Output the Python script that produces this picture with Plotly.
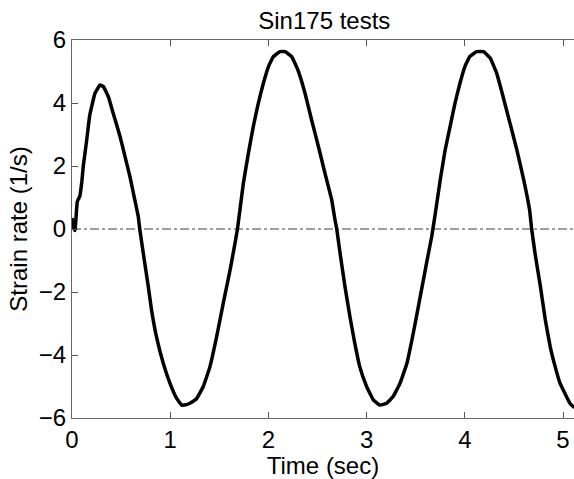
import plotly.graph_objects as go

title_text = "Sin175 tests"
x_label = "Time (sec)"
y_label = "Strain rate (1/s)"

time_s = [0, 0.013, 0.03, 0.054, 0.08, 0.1, 0.115, 0.15, 0.18, 0.234, 0.285, 0.32, 0.37, 0.42, 0.49,
          0.54, 0.59, 0.64, 0.675, 0.69, 0.726, 0.777, 0.81, 0.86, 0.93, 0.998, 1.066, 1.117, 1.16, 1.20,
          1.27, 1.337, 1.405, 1.473, 1.54, 1.61, 1.66, 1.685, 1.745, 1.796, 1.846, 1.897, 1.948, 2.0,
          2.05, 2.118, 2.17, 2.237, 2.30, 2.373, 2.44, 2.51, 2.576, 2.645, 2.678, 2.695, 2.73, 2.78,
          2.83, 2.88, 2.93, 3.0, 3.07, 3.136, 3.205, 3.27, 3.34, 3.41, 3.475, 3.54, 3.61, 3.663, 3.70,
          3.75, 3.80, 3.85, 3.90, 3.95, 4.0, 4.05, 4.12, 4.19, 4.26, 4.325, 4.39, 4.46, 4.53, 4.60,
          4.66, 4.68, 4.715, 4.77, 4.82, 4.87, 4.92, 4.97, 5.02, 5.07, 5.105, 5.12]

strain_rate = [0.35, 0.1, -0.05, 0.87, 1.05, 1.5, 2.0, 2.83, 3.6, 4.31, 4.57, 4.52, 4.2, 3.67, 2.93,
               2.30, 1.66, 0.92, 0.39, 0.0, -0.77, -1.83, -2.57, -3.42, -4.27, -4.90, -5.38, -5.59, -5.58, -5.53,
               -5.38, -5.0, -4.37, -3.42, -2.36, -1.30, -0.45, 0.0, 1.45, 2.40, 3.25, 3.99, 4.62, 5.15,
               5.47, 5.63, 5.63, 5.47, 5.05, 4.31, 3.46, 2.61, 1.77, 0.92, 0.29, 0.02, -0.77, -1.83,
               -2.78, -3.63, -4.37, -5.0, -5.43, -5.59, -5.53, -5.32, -4.90, -4.27, -3.31, -2.25, -1.09, -0.24, 0.50,
               1.56, 2.51, 3.25, 3.99, 4.62, 5.15, 5.47, 5.63, 5.63, 5.42, 4.94, 4.20, 3.36, 2.51, 1.56,
               0.60, 0.02, -0.77, -1.83, -2.89, -3.74, -4.37, -4.90, -5.22, -5.53, -5.64, -5.66]

x_ticks = [0, 1, 2, 3, 4, 5]
y_ticks = [-6, -4, -2, 0, 2, 4, 6]
x_range = [0, 5.112]
y_range = [-6, 6]
zero_level = [0, 0]

font_family = "Arial, Liberation Sans, sans-serif"

fig = go.Figure()
fig.add_trace(go.Scatter(x=x_range, y=zero_level, mode="lines",
                         line=dict(color="#7f7f7f", width=1.3, dash="dashdot"),
                         hoverinfo="skip", showlegend=False))
fig.add_trace(go.Scatter(x=time_s, y=strain_rate, mode="lines",
                         line=dict(color="black", width=3.5, shape="spline", smoothing=0.3),
                         showlegend=False))

fig.update_layout(
    width=574, height=479,
    margin=dict(l=72, r=0, t=40, b=61),
    paper_bgcolor="white", plot_bgcolor="white",
    font=dict(family=font_family, size=24, color="black"),
    title=dict(text=title_text, x=0.565, xanchor="center", y=0.958, yanchor="middle",
               font=dict(size=24, color="black")),
    xaxis=dict(range=x_range, tickvals=x_ticks, ticks="inside", ticklen=6, tickcolor="#555",
               showline=True, linecolor="#666", linewidth=1.2, mirror="ticks",
               showgrid=False, zeroline=False, tickfont=dict(size=24),
               title=dict(text=x_label, font=dict(size=24), standoff=0)),
    yaxis=dict(range=y_range, tickvals=y_ticks, ticks="inside", ticklen=6, tickcolor="#555",
               showline=True, linecolor="#666", linewidth=1.2, mirror=False,
               showgrid=False, zeroline=False, tickfont=dict(size=24),
               title=dict(text=y_label, font=dict(size=24), standoff=4)),
)

fig.write_html("out.html")
